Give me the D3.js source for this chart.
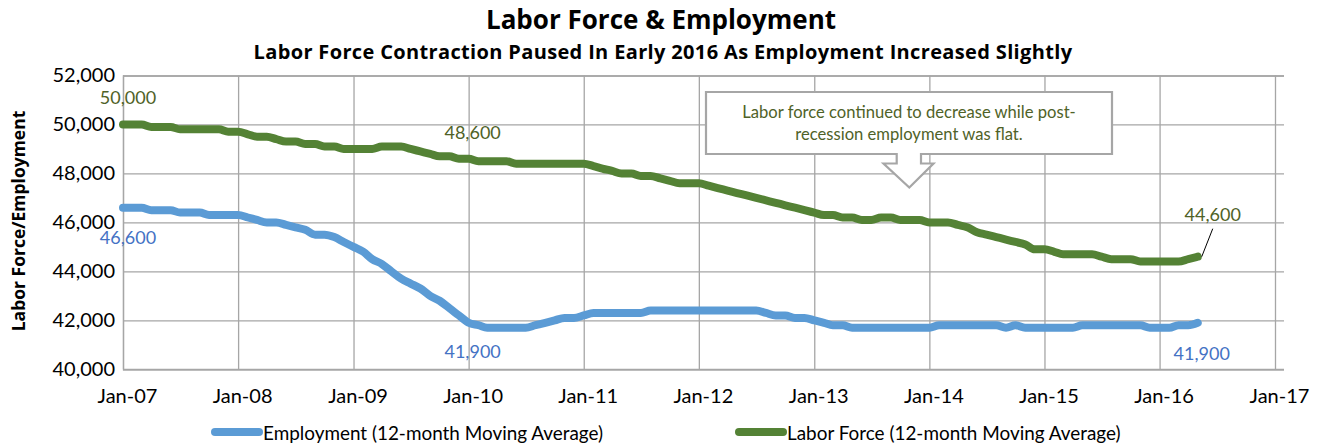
<!DOCTYPE html>
<html>
<head>
<meta charset="utf-8">
<script src="https://cdn.jsdelivr.net/npm/d3@7"></script>
<style>
  body { margin: 0; background: #fff; }
  svg { display: block; font-family: Lato, "Open Sans", sans-serif; }
</style>
</head>
<body>
<svg id="chart" width="1323" height="446"></svg>
<script>
// monthly 12-month moving averages, Jan-07 .. May-16
const laborForce = [
  50000, 50000, 50000, 49900, 49900, 49900, 49800, 49800, 49800, 49800, 49800, 49700,
  49700, 49600, 49500, 49500, 49400, 49300, 49300, 49200, 49200, 49100, 49100, 49000,
  49000, 49000, 49000, 49100, 49100, 49100, 49000, 48900, 48800, 48700, 48700, 48600,
  48600, 48500, 48500, 48500, 48500, 48400, 48400, 48400, 48400, 48400, 48400, 48400,
  48400, 48300, 48200, 48100, 48000, 48000, 47900, 47900, 47800, 47700, 47600, 47600,
  47600, 47500, 47400, 47300, 47200, 47100, 47000, 46900, 46800, 46700, 46600, 46500,
  46400, 46300, 46300, 46200, 46200, 46100, 46100, 46200, 46200, 46100, 46100, 46100,
  46000, 46000, 46000, 45900, 45800, 45600, 45500, 45400, 45300, 45200, 45100, 44900,
  44900, 44800, 44700, 44700, 44700, 44700, 44600, 44500, 44500, 44500, 44400, 44400,
  44400, 44400, 44400, 44500, 44600
];

const employment = [
  46600, 46600, 46600, 46500, 46500, 46500, 46400, 46400, 46400, 46300, 46300, 46300,
  46300, 46200, 46100, 46000, 46000, 45900, 45800, 45700, 45500, 45500, 45400, 45200,
  45000, 44800, 44500, 44300, 44000, 43700, 43500, 43300, 43000, 42800, 42500, 42200,
  41900, 41800, 41700, 41700, 41700, 41700, 41700, 41800, 41900, 42000, 42100, 42100,
  42200, 42300, 42300, 42300, 42300, 42300, 42300, 42400, 42400, 42400, 42400, 42400,
  42400, 42400, 42400, 42400, 42400, 42400, 42400, 42300, 42200, 42200, 42100, 42100,
  42000, 41900, 41800, 41800, 41700, 41700, 41700, 41700, 41700, 41700, 41700, 41700,
  41700, 41800, 41800, 41800, 41800, 41800, 41800, 41800, 41700, 41800, 41700, 41700,
  41700, 41700, 41700, 41700, 41800, 41800, 41800, 41800, 41800, 41800, 41800, 41700,
  41700, 41700, 41800, 41800, 41900
];

const xTickLabels = ["Jan-07", "Jan-08", "Jan-09", "Jan-10", "Jan-11", "Jan-12",
                     "Jan-13", "Jan-14", "Jan-15", "Jan-16", "Jan-17"];
const yTicks = [40000, 42000, 44000, 46000, 48000, 50000, 52000];

// which points carry a value label: [month index, dx, dy]
const greenLabels = [[0, 5, -27], [36, 4, -27], [112, 15, -43]];
const blueLabels = [[0, 5, 29], [36, 4, 28], [112, 4, 30]];

const months = d3.utcMonths(new Date(Date.UTC(2007, 0, 1)), new Date(Date.UTC(2016, 5, 1)));
const yearStarts = d3.utcYears(new Date(Date.UTC(2007, 0, 1)), new Date(Date.UTC(2017, 0, 2)));

const colors = {
  green: "#548235",
  greenText: "#4f6228",
  blue: "#5b9bd5",
  blueText: "#4472c4",
  grid: "#a6a6a6"
};

const svg = d3.select("#chart");

const plotLeft = 123, plotRight = 1284, plotTop = 75.5, plotBottom = 369.3;

const x = d3.scaleUtc()
  .domain([yearStarts[0], yearStarts[yearStarts.length - 1]])
  .range([plotLeft, 1275]);

const y = d3.scaleLinear()
  .domain([40000, 52000])
  .range([plotBottom, plotTop]);

// titles (Open Sans bold is closer to the wide bold face of the original)
svg.append("text")
  .attr("x", 661).attr("y", 29)
  .attr("text-anchor", "middle")
  .attr("font-family", "'Open Sans', sans-serif")
  .attr("font-size", 26).attr("font-weight", "bold")
  .text("Labor Force & Employment");

svg.append("text")
  .attr("x", 663).attr("y", 59)
  .attr("text-anchor", "middle")
  .attr("font-family", "'Open Sans', sans-serif")
  .attr("font-size", 20).attr("font-weight", "bold")
  .attr("letter-spacing", 0.35)
  .text("Labor Force Contraction Paused In Early 2016 As Employment Increased Slightly");

// y axis + horizontal grid
const yAxis = svg.append("g")
  .attr("transform", `translate(${plotLeft},0)`)
  .call(d3.axisLeft(y)
    .tickValues(yTicks)
    .tickSize(-(plotRight - plotLeft))
    .tickPadding(8)
    .tickFormat(d3.format(",")));

yAxis.select(".domain").attr("stroke", colors.grid).attr("stroke-width", 1.3);
yAxis.selectAll(".tick line").attr("stroke", colors.grid).attr("stroke-width", 1.3);
yAxis.selectAll(".tick text")
  .attr("font-size", 20).attr("fill", "#000")
  .attr("font-family", "Lato, sans-serif");

// x axis + vertical grid
const xAxis = svg.append("g")
  .attr("transform", `translate(0,${plotBottom})`)
  .call(d3.axisBottom(x)
    .tickValues(yearStarts)
    .tickSize(-(plotBottom - plotTop))
    .tickPadding(20)
    .tickFormat((d, i) => xTickLabels[i]));

xAxis.select(".domain").remove();
xAxis.selectAll(".tick line").attr("stroke", colors.grid).attr("stroke-width", 1.3);
xAxis.selectAll(".tick text")
  .attr("font-size", 20).attr("fill", "#000")
  .attr("dx", 4)
  .attr("font-family", "Lato, sans-serif");

svg.append("line")
  .attr("x1", plotLeft).attr("x2", plotRight)
  .attr("y1", plotBottom).attr("y2", plotBottom)
  .attr("stroke", colors.grid).attr("stroke-width", 1.3);

// y axis title
svg.append("text")
  .attr("transform", "translate(25,221) rotate(-90)")
  .attr("text-anchor", "middle")
  .attr("font-family", "'Open Sans', sans-serif")
  .attr("font-size", 17.5).attr("font-weight", "bold")
  .text("Labor Force/Employment");

// callout box with down arrow
const callout = d3.path();
callout.moveTo(706, 92);
callout.lineTo(1112, 92);
callout.lineTo(1112, 154);
callout.lineTo(921, 154);
callout.lineTo(921, 163.5);
callout.lineTo(933.5, 163.5);
callout.lineTo(909.3, 187.5);
callout.lineTo(883.5, 163.5);
callout.lineTo(896.7, 163.5);
callout.lineTo(896.7, 154);
callout.lineTo(706, 154);
callout.closePath();

svg.append("path")
  .attr("d", callout.toString())
  .attr("fill", "#fff")
  .attr("stroke", colors.grid)
  .attr("stroke-width", 2.2);

const note = svg.append("text")
  .attr("text-anchor", "middle")
  .attr("font-size", 16.6)
  .attr("fill", colors.greenText);
note.append("tspan").attr("x", 909).attr("y", 118).text("Labor force continued to decrease while post-");
note.append("tspan").attr("x", 909).attr("y", 140).text("recession employment was flat.");

// lines
const line = d3.line()
  .x((d, i) => x(months[i]))
  .y(d => y(d))
  .curve(d3.curveMonotoneX);

svg.append("path")
  .datum(employment)
  .attr("d", line)
  .attr("fill", "none")
  .attr("stroke", colors.blue)
  .attr("stroke-width", 8)
  .attr("stroke-linejoin", "round")
  .attr("stroke-linecap", "round");

svg.append("path")
  .datum(laborForce)
  .attr("d", line)
  .attr("fill", "none")
  .attr("stroke", colors.green)
  .attr("stroke-width", 8)
  .attr("stroke-linejoin", "round")
  .attr("stroke-linecap", "round");

// leader line for last green label
const last = laborForce.length - 1;
svg.append("line")
  .attr("x1", x(months[last]) + 15).attr("y1", y(laborForce[last]) - 28)
  .attr("x2", x(months[last]) + 4).attr("y2", y(laborForce[last]))
  .attr("stroke", "#000").attr("stroke-width", 1);

// data labels
function addLabels(series, labels, fill) {
  labels.forEach(([i, dx, dy]) => {
    svg.append("text")
      .attr("x", x(months[i]) + dx)
      .attr("y", y(series[i]) + dy)
      .attr("text-anchor", "middle")
      .attr("dominant-baseline", "central")
      .attr("font-size", 18)
      .attr("fill", fill)
      .text(d3.format(",")(series[i]));
  });
}
addLabels(laborForce, greenLabels, colors.greenText);
addLabels(employment, blueLabels, colors.blueText);

// legend
const legendItems = [
  { name: "Employment (12-month Moving Average)", color: colors.blue, x: 215 },
  { name: "Labor Force (12-month Moving Average)", color: colors.green, x: 739 }
];
legendItems.forEach(item => {
  svg.append("line")
    .attr("x1", item.x).attr("x2", item.x + 44)
    .attr("y1", 432).attr("y2", 432)
    .attr("stroke", item.color)
    .attr("stroke-width", 8)
    .attr("stroke-linecap", "round");
  svg.append("text")
    .attr("x", item.x + 48).attr("y", 432)
    .attr("dominant-baseline", "central")
    .attr("font-size", 18.9)
    .text(item.name);
});
</script>
</body>
</html>
